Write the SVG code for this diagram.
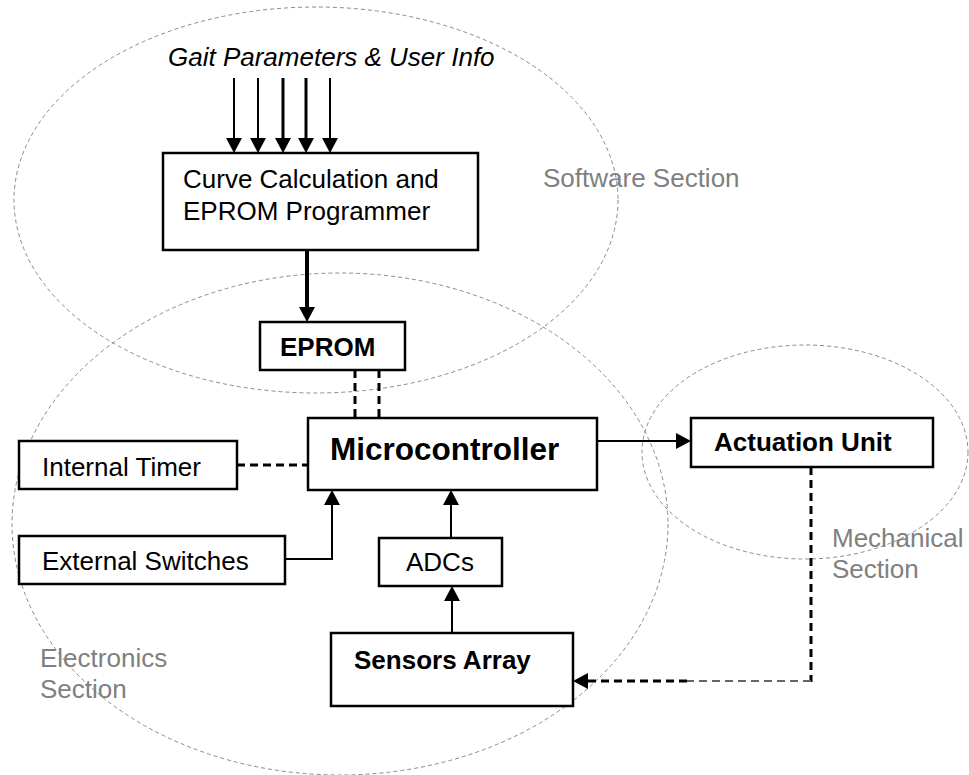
<svg xmlns="http://www.w3.org/2000/svg" width="969" height="775" viewBox="0 0 969 775">
  <style>
    .zone { fill: none; stroke: #8a8a8a; stroke-width: 1; stroke-dasharray: 4 3; }
    .zlabel { font-family: "Liberation Sans", Arial, sans-serif; font-size: 26px; fill: #808080; }
    .box { fill: #ffffff; stroke: #000000; stroke-width: 2.5; }
    .txt { font-family: "Liberation Sans", Arial, sans-serif; font-size: 26px; fill: #000000; }
    .bold { font-weight: bold; }
    .big { font-size: 31.5px; }
    .gait { font-style: italic; }
    .wire { fill: none; stroke: #000000; stroke-width: 2; }
    .w3 { stroke-width: 3; }
    .w4 { stroke-width: 4; }
    .dash { fill: none; stroke: #000000; stroke-width: 3; stroke-dasharray: 8 5; }
    .faint { stroke: #666666; stroke-width: 2; }
  </style>
  <defs>
    <marker id="head" markerUnits="userSpaceOnUse" markerWidth="15" markerHeight="16" refX="2" refY="8" orient="auto">
      <path d="M0,0 L15,8 L0,16 z" fill="#000000"/>
    </marker>
  </defs>
  <rect width="969" height="775" fill="#ffffff"/>

  <!-- section outlines -->
  <g id="sections">
    <ellipse class="zone" cx="316" cy="200" rx="302" ry="193"/>
    <ellipse class="zone" cx="340" cy="524" rx="328" ry="251"/>
    <ellipse class="zone" cx="805" cy="452" rx="163" ry="107"/>
    <text class="zlabel" x="543" y="187">Software Section</text>
    <text class="zlabel" x="40" y="667">Electronics</text>
    <text class="zlabel" x="40" y="698">Section</text>
    <text class="zlabel" x="832" y="547">Mechanical</text>
    <text class="zlabel" x="832" y="578">Section</text>
  </g>

  <!-- connectors -->
  <g id="connectors">
    <line class="wire" x1="234" y1="78" x2="234" y2="140" marker-end="url(#head)"/>
    <line class="wire" x1="258" y1="78" x2="258" y2="140" marker-end="url(#head)"/>
    <line class="wire w3" x1="283" y1="78" x2="283" y2="140" marker-end="url(#head)"/>
    <line class="wire w3" x1="306" y1="78" x2="306" y2="140" marker-end="url(#head)"/>
    <line class="wire" x1="330" y1="78" x2="330" y2="140" marker-end="url(#head)"/>
    <line class="wire w4" x1="307" y1="250" x2="307" y2="309" marker-end="url(#head)"/>
    <line class="dash" x1="355" y1="370" x2="355" y2="418"/>
    <line class="dash" x1="379" y1="370" x2="379" y2="418"/>
    <line class="dash" x1="237" y1="465" x2="308" y2="465"/>
    <line class="wire" x1="597" y1="441" x2="678" y2="441" marker-end="url(#head)"/>
    <polyline class="wire" points="285,559 332,559 332,503" marker-end="url(#head)"/>
    <line class="wire" x1="451" y1="538" x2="451" y2="503" marker-end="url(#head)"/>
    <line class="wire" x1="452" y1="633" x2="452" y2="599" marker-end="url(#head)"/>
    <line class="dash" x1="811" y1="467" x2="811" y2="682"/>
    <line class="dash faint" x1="811" y1="681" x2="687" y2="681"/>
    <line class="dash" x1="687" y1="681" x2="586" y2="681" marker-end="url(#head)"/>
  </g>

  <g id="gait-input">
    <text class="txt gait" x="168" y="66">Gait Parameters &amp; User Info</text>
  </g>

  <g id="curve-calc">
    <rect class="box" x="163" y="153" width="315" height="97"/>
    <text class="txt" x="183" y="188">Curve Calculation and</text>
    <text class="txt" x="183" y="220">EPROM Programmer</text>
  </g>

  <g id="eprom">
    <rect class="box" x="260" y="322" width="145" height="48"/>
    <text class="txt bold" x="280" y="356">EPROM</text>
  </g>

  <g id="microcontroller">
    <rect class="box" x="308" y="418" width="289" height="72"/>
    <text class="txt bold big" x="330" y="460">Microcontroller</text>
  </g>

  <g id="internal-timer">
    <rect class="box" x="19" y="441" width="218" height="48"/>
    <text class="txt" x="42" y="476">Internal Timer</text>
  </g>

  <g id="external-switches">
    <rect class="box" x="19" y="536" width="266" height="48"/>
    <text class="txt" x="42" y="570">External Switches</text>
  </g>

  <g id="adcs">
    <rect class="box" x="379" y="538" width="123" height="48"/>
    <text class="txt" x="406" y="571">ADCs</text>
  </g>

  <g id="sensors-array">
    <rect class="box" x="331" y="633" width="242" height="73"/>
    <text class="txt bold" x="354" y="669">Sensors Array</text>
  </g>

  <g id="actuation-unit">
    <rect class="box" x="691" y="418" width="242" height="49"/>
    <text class="txt bold" x="714" y="451">Actuation Unit</text>
  </g>
</svg>
